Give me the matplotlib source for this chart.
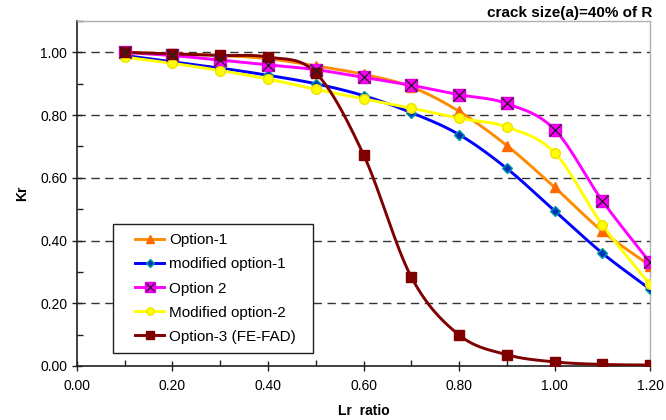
import numpy as np
import matplotlib
matplotlib.use("Agg")
import matplotlib.pyplot as plt
from matplotlib.lines import Line2D
from matplotlib.legend_handler import HandlerLine2D
from matplotlib.ticker import MultipleLocator, FormatStrFormatter

plt.rcParams['font.family'] = ['Liberation Sans', 'DejaVu Sans']

lr_ratio = [0.1, 0.2, 0.3, 0.4, 0.5, 0.6, 0.7, 0.8, 0.9, 1.0, 1.1, 1.2]

option_1 = [1.000, 0.995, 0.990, 0.980, 0.957, 0.930, 0.890, 0.812, 0.703, 0.570, 0.430, 0.320]
modified_option_1 = [0.990, 0.970, 0.950, 0.927, 0.900, 0.862, 0.808, 0.738, 0.630, 0.495, 0.360, 0.245]
option_2 = [1.000, 0.990, 0.975, 0.960, 0.945, 0.920, 0.895, 0.865, 0.837, 0.754, 0.527, 0.330]
modified_option_2 = [0.985, 0.965, 0.942, 0.915, 0.882, 0.852, 0.822, 0.790, 0.762, 0.680, 0.450, 0.260]
option_3 = [1.000, 0.995, 0.990, 0.985, 0.935, 0.674, 0.284, 0.099, 0.036, 0.013, 0.005, 0.003]

series = [
    ("Option-1", option_1, dict(color="#ff8c00", marker="^", ms=7, mfc="#ff6a00", mec="#ff6a00")),
    ("modified option-1", modified_option_1, dict(color="#0000ff", marker="D", ms=5, mfc="#0030c0", mec="#00a0a0")),
    ("Option 2", option_2, dict(color="#ff00ff")),
    ("Modified option-2", modified_option_2, dict(color="#ffff00", marker="o", ms=7, mfc="#ffff00", mec="#f0e000")),
    ("Option-3 (FE-FAD)", option_3, dict(color="#800000", marker="s", ms=7, mfc="#800000", mec="#800000")),
]


def smooth(x, y, n=30):
    """Catmull-Rom spline through the points."""
    x = np.asarray(x, float)
    y = np.asarray(y, float)
    px = np.concatenate([[2 * x[0] - x[1]], x, [2 * x[-1] - x[-2]]])
    py = np.concatenate([[2 * y[0] - y[1]], y, [2 * y[-1] - y[-2]]])
    xs, ys = [], []
    t = np.linspace(0, 1, n, endpoint=False)
    for i in range(1, len(px) - 2):
        for p, out in ((px, xs), (py, ys)):
            p0, p1, p2, p3 = p[i - 1], p[i], p[i + 1], p[i + 2]
            out.append(0.5 * ((2 * p1) + (-p0 + p2) * t
                              + (2 * p0 - 5 * p1 + 4 * p2 - p3) * t ** 2
                              + (-p0 + 3 * p1 - 3 * p2 + p3) * t ** 3))
    xs.append([x[-1]])
    ys.append([y[-1]])
    return np.concatenate(xs), np.concatenate(ys)


class IndentedLine(HandlerLine2D):
    """Legend line handle drawn with a blank indent on its left."""
    def create_artists(self, legend, orig_handle, xdescent, ydescent,
                       width, height, fontsize, trans):
        shift = 0.85 * fontsize
        return super().create_artists(legend, orig_handle, xdescent - shift, ydescent,
                                      width - shift, height, fontsize, trans)


fig = plt.figure(figsize=(6.66, 4.2), dpi=100)
ax = fig.add_axes([0.1156, 0.1286, 0.8604, 0.8214])

handles = []
for name, vals, st in series:
    sx, sy = smooth(lr_ratio, vals)
    ax.plot(sx, sy, color=st["color"], lw=2.1, zorder=3, solid_capstyle="round")
    if name == "Option 2":
        ax.plot(lr_ratio, vals, ls="none", marker="s", ms=9, mfc="#ff00ff", mec="#e000e0", zorder=4)
        ax.plot(lr_ratio, vals, ls="none", marker="x", ms=8, mec="#202020", mew=0.9, zorder=5)
        h = ax.plot([], [], color=st["color"], lw=2.1, marker="s", ms=9, mfc="#ff00ff", mec="#e000e0")[0]
        hx = ax.plot([], [], color=st["color"], lw=0, marker="x", ms=8, mec="#202020", mew=0.9)[0]
        handles.append(((h, hx), name))
    else:
        ax.plot(lr_ratio, vals, ls="none", marker=st["marker"], ms=st["ms"],
                mfc=st["mfc"], mec=st["mec"], mew=1.0, zorder=4)
        h = ax.plot([], [], color=st["color"], lw=2.1, marker=st["marker"], ms=st["ms"],
                    mfc=st["mfc"], mec=st["mec"])[0]
        handles.append((h, name))

ax.set_xlim(0, 1.2)
ax.set_ylim(0, 1.1)
ax.xaxis.set_major_locator(MultipleLocator(0.2))
ax.xaxis.set_minor_locator(MultipleLocator(0.1))
ax.yaxis.set_major_locator(MultipleLocator(0.2))
ax.yaxis.set_minor_locator(MultipleLocator(0.1))
ax.xaxis.set_major_formatter(FormatStrFormatter("%.2f"))
ax.yaxis.set_major_formatter(FormatStrFormatter("%.2f"))
ax.tick_params(which="major", direction="inout", length=7, width=1, labelsize=10, color="#202020")
ax.tick_params(which="minor", direction="in", length=4, width=1, color="#202020")
ax.tick_params(axis="x", pad=6)

for yv in [0.2, 0.4, 0.6, 0.8, 1.0]:
    ax.axhline(yv, color="#333333", lw=1.0, ls=(0, (6, 4)), zorder=1)

for s in ["left", "bottom"]:
    ax.spines[s].set_color("#202020")
    ax.spines[s].set_linewidth(1.2)
for s in ["top", "right"]:
    ax.spines[s].set_color("#b0b0b0")
    ax.spines[s].set_linewidth(1.0)

ax.set_xlabel("Lr  ratio", fontsize=10, fontweight="bold", labelpad=8)
ax.set_ylabel("Kr", fontsize=10, fontweight="bold", labelpad=8)
fig.text(0.979, 0.985, "crack size(a)=40% of R", ha="right", va="top",
         fontsize=11, fontweight="bold")

leg = ax.legend([h for h, _ in handles], [n for _, n in handles],
                handler_map={Line2D: IndentedLine()},
                loc="lower left", bbox_to_anchor=(0.063, 0.038, 0.349, 0.3),
                mode="expand", fontsize=11,
                frameon=True, fancybox=False, edgecolor="#202020", framealpha=1,
                handlelength=2.75, handletextpad=0.33, labelspacing=0.66,
                borderpad=0.6, borderaxespad=0, markerscale=0.75)
leg.get_frame().set_linewidth(1.0)

fig.savefig("out.png", dpi=100)
